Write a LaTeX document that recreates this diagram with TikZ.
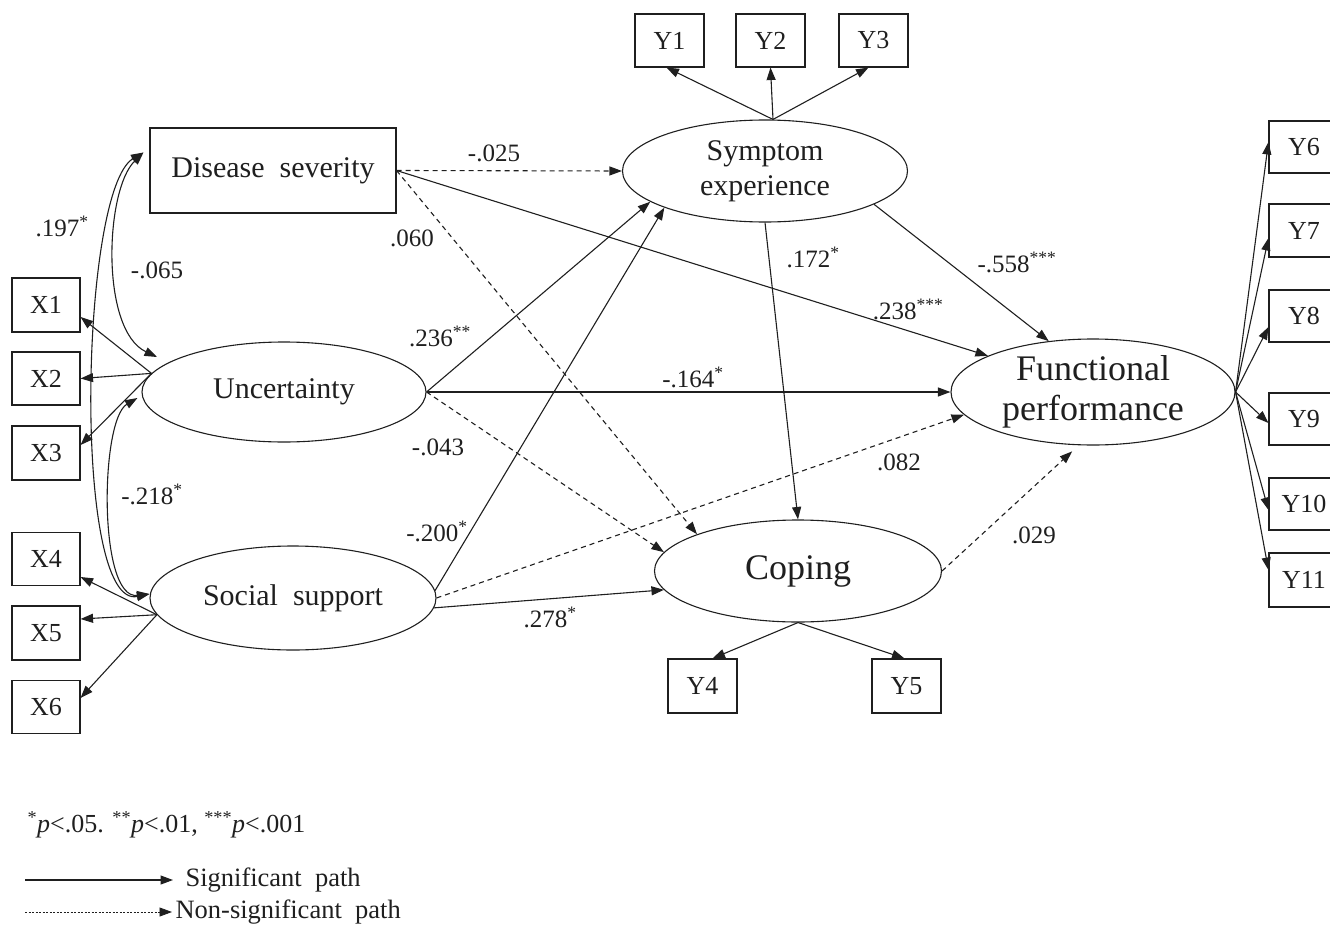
\documentclass[tikz,border=0pt]{standalone}
\usepackage{fontspec}
\setmainfont{Liberation Serif}
\usetikzlibrary{arrows.meta,shapes.geometric,calc}
\tikzset{
 obs/.style={draw, rectangle, minimum width=68pt, minimum height=53pt, inner sep=0pt, font=\fontsize{26}{30}\selectfont},
 lat/.style={draw, ellipse, inner sep=0pt, align=center},
 lbl/.style={inner sep=0pt, font=\fontsize{25}{30}\selectfont},
 sig/.style={-{Triangle[length=12.5pt,width=9pt]}},
 nsig/.style={sig, dash pattern=on 5pt off 4pt},
 cov/.style={{Triangle[length=12.5pt,width=9pt]}-{Triangle[length=12.5pt,width=9pt]}},
}
\begin{document}
\begin{tikzpicture}[x=1pt,y=-1pt,line width=1.1pt,color=black!88]
\useasboundingbox (0,0) rectangle (1330,931);
% latent and main nodes
\node[obs, minimum width=246pt, minimum height=85pt, font=\fontsize{30}{34}\selectfont] (ds) at (273,170.5) {Disease\ \ severity};
\node[lat, minimum width=284pt, minimum height=100pt, font=\fontsize{30}{34}\selectfont] (unc) at (284,392) {Uncertainty};
\node[lat, minimum width=286pt, minimum height=104pt, font=\fontsize{30}{34}\selectfont] (ss) at (293,598) {Social\ \ support};
\node[lat, minimum width=285pt, minimum height=102pt, font=\fontsize{30}{35}\selectfont] (sym) at (765,171) {Symptom\\experience};
\node[lat, minimum width=287pt, minimum height=102pt, font=\fontsize{36}{40}\selectfont] (cop) at (798,571) {Coping};
\node[lat, minimum width=284pt, minimum height=106pt, font=\fontsize{36}{40}\selectfont] (fp) at (1093,392) {Functional\\performance};
% indicators
\node[obs, minimum height=54pt] (x1) at (46,305) {X1};
\node[obs] (x2) at (46,378.5) {X2};
\node[obs, minimum height=54pt] (x3) at (46,453) {X3};
\node[obs] (x4) at (46,559) {X4};
\node[obs, minimum height=54pt] (x5) at (46,633) {X5};
\node[obs] (x6) at (46,707) {X6};
\node[obs, minimum width=69pt] (y1) at (669.5,40.5) {Y1};
\node[obs, minimum width=69pt] (y2) at (770.5,40.5) {Y2};
\node[obs, minimum width=69pt] (y3) at (873.5,40.5) {Y3};
\node[obs, minimum width=69pt, minimum height=54pt] (y4) at (702.5,686) {Y4};
\node[obs, minimum width=69pt, minimum height=54pt] (y5) at (906.5,686) {Y5};
\node[obs, minimum width=70pt, minimum height=52pt] (y6) at (1304,147) {Y6};
\node[obs, minimum width=70pt] (y7) at (1304,230.5) {Y7};
\node[obs, minimum width=70pt, minimum height=52pt] (y8) at (1304,316) {Y8};
\node[obs, minimum width=70pt, minimum height=52pt] (y9) at (1304,419) {Y9};
\node[obs, minimum width=70pt, minimum height=52pt] (y10) at (1304,504) {Y10};
\node[obs, minimum width=70pt, minimum height=54pt] (y11) at (1304,580) {Y11};
% measurement arrows
\draw[sig] (unc.172) -- ([yshift=-12pt]x1.east);
\draw[sig] (unc.172) -- (x2.east);
\draw[sig] (unc.172) -- ([yshift=8pt]x3.east);
\draw[sig] (ss.187) -- ([yshift=-18pt]x4.east);
\draw[sig] (ss.187) -- ([yshift=14pt]x5.east);
\draw[sig] (ss.187) -- ([yshift=9pt]x6.east);
\draw[sig] ([xshift=8pt]sym.north) -- ([xshift=-3pt]y1.south);
\draw[sig] ([xshift=8pt]sym.north) -- (y2.south);
\draw[sig] ([xshift=8pt]sym.north) -- ([xshift=-5pt]y3.south);
\draw[sig] (cop.south) -- ([xshift=10pt]y4.north);
\draw[sig] (cop.south) -- ([xshift=-2pt]y5.north);
\draw[sig] (fp.east) -- ([yshift=5pt]y6.west);
\draw[sig] (fp.east) -- ([yshift=-7.5pt]y7.west);
\draw[sig] (fp.east) -- ([yshift=-11pt]y8.west);
\draw[sig] (fp.east) -- ([yshift=-4pt]y9.west);
\draw[sig] (fp.east) -- ([yshift=-6pt]y10.west);
\draw[sig] (fp.east) -- ([yshift=10pt]y11.west);
% covariances
\draw[cov] ([xshift=-6pt,yshift=18pt]ds.west) .. controls (80,190) and (72,610) .. ([yshift=4pt]ss.west);
\draw[cov] ([xshift=-6pt,yshift=18pt]ds.west) .. controls (105,190) and (100,330) .. ([xshift=-127pt,yshift=35pt]unc.center);
\draw[cov] ([xshift=-4pt,yshift=-6pt]unc.west) .. controls (100,420) and (98,600) .. ([yshift=4pt]ss.west);
% structural paths
\draw[nsig] (ds.east) -- (sym.west);
\draw[nsig] (ds.east) -- (cop.160);
\draw[sig] (ds.east) -- (fp.161);
\draw[sig] (sym.-17) -- (fp.131);
\draw[sig] (sym.south) -- (cop.north);
\draw[sig] (unc.east) -- (sym.195);
\draw[sig] (unc.east) -- (fp.west);
\draw[nsig] (unc.east) -- (cop.172);
\draw[sig] (ss.3) -- (sym.200);
\draw[nsig] (ss.east) -- (fp.190);
\draw[sig] (ss.356) -- (cop.188);
\draw[nsig, shorten >=9pt] (cop.east) -- (fp.255);
% path labels
\node[lbl] (l197) at (62,226) {.197\textsuperscript{*}};
\node[lbl] (l065) at (157,270) {-.065};
\node[lbl] (l218) at (152,494) {-.218\textsuperscript{*}};
\node[lbl] (l025) at (494,153) {-.025};
\node[lbl] (l060) at (412,238) {.060};
\node[lbl] (l236) at (440,336) {.236\textsuperscript{**}};
\node[lbl] (l043) at (438,447) {-.043};
\node[lbl] (l200) at (437,531) {-.200\textsuperscript{*}};
\node[lbl] (l278) at (550,617) {.278\textsuperscript{*}};
\node[lbl] (l164) at (693,377) {-.164\textsuperscript{*}};
\node[lbl] (l172) at (813,257) {.172\textsuperscript{*}};
\node[lbl] (l238) at (908,309) {.238\textsuperscript{***}};
\node[lbl] (l558) at (1017,262) {-.558\textsuperscript{***}};
\node[lbl] (l082) at (899,462) {.082};
\node[lbl] (l029) at (1034,535) {.029};
% legend
\node[lbl, anchor=west, font=\fontsize{26}{30}\selectfont] (pv) at (27,825) {\textsuperscript{*}\textit{p}<.05. \textsuperscript{**}\textit{p}<.01, \textsuperscript{***}\textit{p}<.001};
\coordinate (la) at (25,880);
\node[lbl, anchor=west, font=\fontsize{26.5}{30}\selectfont] (sigt) at (185,880) {Significant\ \ path};
\draw[sig] (la) -- ([xshift=-12pt]sigt.west);
\coordinate (lb) at (25,912);
\node[lbl, anchor=west, font=\fontsize{26.5}{30}\selectfont] (nsigt) at (175,912) {Non-significant\ \ path};
\draw[sig, line width=0.8pt, dash pattern=on 2pt off 1.5pt] (lb) -- ([xshift=-3pt]nsigt.west);
\end{tikzpicture}
\end{document}
